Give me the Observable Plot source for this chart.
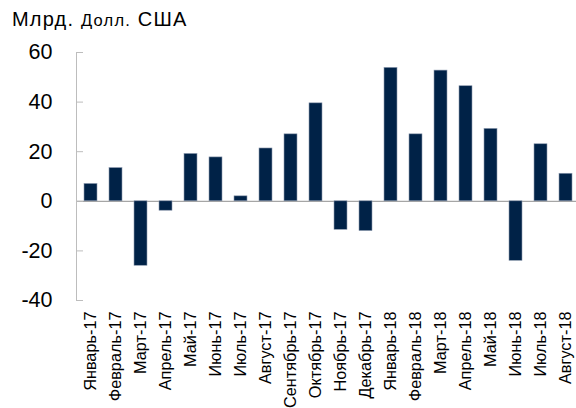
<!DOCTYPE html>
<html>
<head>
<meta charset="utf-8">
<script src="https://cdn.jsdelivr.net/npm/d3@7"></script>
<script src="https://cdn.jsdelivr.net/npm/@observablehq/plot@0.6"></script>
<style>
  body { margin: 0; background: #fff; font-family: "Liberation Sans", Arial, sans-serif; }
  #wrap { position: relative; width: 576px; height: 408px; overflow: hidden; }
  #title { height: 36px; padding-left: 12px; box-sizing: border-box; padding-top: 8px; font-size: 20px; color: #000; white-space: nowrap; letter-spacing: 1.2px; }
  #title .small { font-size: 16.5px; }
</style>
</head>
<body>
<div id="wrap">
  <div id="title">Млрд. <span class="small">Долл.</span> США</div>
  <div id="chart"></div>
</div>
<script>
const months = ["Январь-17","Февраль-17","Март-17","Апрель-17","Май-17","Июнь-17","Июль-17","Август-17","Сентябрь-17","Октябрь-17","Ноябрь-17","Декабрь-17","Январь-18","Февраль-18","Март-18","Апрель-18","Май-18","Июнь-18","Июль-18","Август-18"];
const values = [7.0, 13.4, -26.0, -3.8, 19.1, 17.7, 2.0, 21.3, 27.0, 39.5, -11.5, -12.0, 53.8, 27.0, 52.7, 46.4, 29.2, -24.0, 23.0, 11.1];
const yTicks = [-40, -20, 0, 20, 40, 60];

const data = months.map((m, i) => ({month: m, value: values[i]}));

const chart = Plot.plot({
  width: 576,
  height: 372,
  marginTop: 16,
  marginBottom: 108,
  marginLeft: 76,
  marginRight: 0,
  style: {fontFamily: "'Liberation Sans', Arial, sans-serif", color: "#000", background: "#fff", overflow: "hidden"},
  x: {domain: months, range: [76, 581], paddingInner: 0.47, paddingOuter: 0.2, label: null},
  y: {domain: [-40, 60], label: null},
  marks: [
    Plot.ruleY([0], {stroke: "#a6a6a6", strokeWidth: 1.3}),
    Plot.barY(data, {x: "month", y: "value", fill: "#002247", stroke: "#8e9bb0", strokeWidth: 0.6}),
    Plot.frame({anchor: "left", stroke: "#bdbdbd"}),
    Plot.axisY({ticks: yTicks, tickSize: -7, tickPadding: 31, stroke: "#bdbdbd", fontSize: 21.5, tickFormat: d => d === 0 ? "0" : String(d), label: null}),
    Plot.axisX({tickSize: 0, tickPadding: 11, tickRotate: -90, fontSize: 16.3, label: null})
  ]
});
document.getElementById("chart").appendChild(chart);
</script>
</body>
</html>
